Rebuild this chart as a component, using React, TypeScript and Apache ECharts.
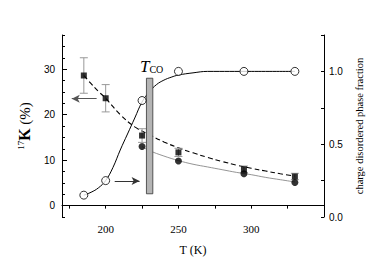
import React, { useEffect, useRef } from "react";
import * as echarts from "echarts";

// Open circles: charge disordered phase fraction (right axis)
const tOpen = [185, 200, 225, 250, 295, 330];
const fracOpen = [0.15, 0.25, 0.8, 1.0, 1.0, 1.0];
// Fit curve through open circles
const tFracFit = [185, 190, 195, 200, 205, 210, 215, 220, 225, 230, 235, 240, 245, 250, 260, 270, 300, 330];
const fracFit = [0.15, 0.17, 0.2, 0.25, 0.34, 0.46, 0.57, 0.68, 0.79, 0.86, 0.91, 0.94, 0.96, 0.975, 0.99, 1.0, 1.0, 1.0];

// Squares: 17K (%) with error bars
const tSq = [185, 200, 225, 250, 295, 330];
const kSq = [28.6, 23.6, 15.4, 11.7, 8.0, 6.4];
const kSqErr = [3.9, 3.0, 1.5, 0.9, 0.7, 0.7];
// Dashed fit through squares
const tDashFit = [185, 190, 195, 200, 210, 220, 230, 240, 250, 260, 270, 280, 290, 300, 310, 320, 330];
const kDashFit = [28.6, 26.8, 25.1, 23.6, 20.0, 17.3, 15.6, 14.0, 12.7, 11.6, 10.6, 9.7, 8.9, 8.2, 7.6, 7.0, 6.5];

// Filled circles: 17K (%)
const tDot = [225, 250, 295, 330];
const kDot = [13.0, 9.8, 7.0, 5.1];
// Gray fit through filled circles
const tGrayFit = [225, 230, 240, 250, 260, 270, 280, 290, 300, 310, 320, 330];
const kGrayFit = [13.0, 12.1, 10.9, 9.9, 9.1, 8.5, 7.9, 7.3, 6.8, 6.2, 5.7, 5.2];

// T_CO band: [tStart, tEnd, kBottom, kTop]
const tcoBand = [228, 232.4, 2.6, 28.0];

// Arrows: [tFrom, tTo, value]
const leftArrow = [193.8, 176.7, 23.5];
const rightArrow = [206.2, 223.3, 0.247];

const xTicks = [175, 200, 225, 250, 275, 300, 325];
const xLabels = [200, 250, 300];
const leftLabels = [0, 10, 20, 30];
const rightLabels = [0, 0.5, 1.0];

const SANS = "Liberation Sans, Arial, sans-serif";
const SERIF = "Liberation Serif, Times New Roman, serif";

export default function App() {
  const ref = useRef<HTMLDivElement>(null);
  useEffect(() => {
    if (!ref.current) return;
    const chart = echarts.init(ref.current, null, { renderer: "svg" });
    const zip = (a: number[], b: number[]) => a.map((v, i) => [v, b[i]]);
    const option: any = {
      animation: false,
      grid: { left: 62, right: 50, top: 35, bottom: 44 },
      graphic: [
        {
          type: "text",
          left: 140,
          top: 58,
          style: {
            text: "{t|T}{s|CO}",
            rich: {
              t: { fontFamily: SERIF, fontStyle: "italic", fontSize: 17, fill: "#000", verticalAlign: "bottom" },
              s: { fontFamily: SERIF, fontSize: 10, fill: "#000", padding: [6, 0, 0, 0] },
            },
          },
        },
      ],
      xAxis: {
        type: "value",
        min: 170,
        max: 350,
        name: "T (K)",
        nameLocation: "middle",
        nameGap: 27,
        nameTextStyle: { fontFamily: SERIF, fontSize: 12, color: "#000", fontWeight: "normal" },
        axisLine: { lineStyle: { color: "#000", width: 1 } },
        axisTick: { customValues: xTicks, length: 3, inside: false, lineStyle: { color: "#000" } },
        axisLabel: { customValues: xLabels, fontFamily: SERIF, fontSize: 11, color: "#000", margin: 6 },
        splitLine: { show: false },
      },
      yAxis: [
        {
          type: "value",
          min: -2.5,
          max: 37.5,
          interval: 2.5,
          position: "left",
          name: "{sup|17}{k|K}{r| (%)}",
          nameLocation: "middle",
          nameRotate: 90,
          nameGap: 15,
          nameTextStyle: {
            rich: {
              sup: { fontFamily: SERIF, fontSize: 9, color: "#000", verticalAlign: "top", padding: [0, 0, 8, 0] },
              k: { fontFamily: SERIF, fontSize: 16, fontWeight: "bold", color: "#000" },
              r: { fontFamily: SERIF, fontSize: 15, color: "#000" },
            },
          },
          axisLine: { show: true, lineStyle: { color: "#000", width: 1 } },
          axisTick: { show: true, inside: true, length: 3, lineStyle: { color: "#000" } },
          axisLabel: {
            fontFamily: SANS,
            fontSize: 10,
            color: "#000",
            margin: 7,
            formatter: (v: number) => (leftLabels.indexOf(v) >= 0 ? String(v) : ""),
          },
          splitLine: { show: false },
        },
        {
          type: "value",
          min: 0,
          max: 1.25,
          interval: 0.25,
          position: "right",
          name: "charge disordered phase fraction",
          nameLocation: "middle",
          nameRotate: 90,
          nameGap: 27,
          nameTextStyle: { fontFamily: SERIF, fontSize: 10.5, color: "#000" },
          axisLine: { show: true, lineStyle: { color: "#000", width: 1 } },
          axisTick: { show: true, inside: true, length: 3, lineStyle: { color: "#000" } },
          axisLabel: {
            fontFamily: SANS,
            fontSize: 10,
            color: "#000",
            margin: 5,
            formatter: (v: number) => (rightLabels.some((r) => Math.abs(r - v) < 1e-9) ? v.toFixed(1) : ""),
          },
          splitLine: { show: false },
        },
        {
          type: "value",
          min: -2.5,
          max: 37.5,
          position: "left",
          axisLine: { show: false },
          axisLabel: { show: false },
          splitLine: { show: false },
          axisTick: { show: true, inside: true, length: 5, customValues: leftLabels, lineStyle: { color: "#000" } },
        },
      ],
      series: [
        {
          type: "line",
          yAxisIndex: 1,
          data: zip(tFracFit, fracFit),
          smooth: 0.4,
          showSymbol: false,
          symbol: "none",
          lineStyle: { color: "#000", width: 1 },
          z: 2,
          markLine: {
            silent: true,
            symbol: ["none", "arrow"],
            symbolSize: [6, 8],
            label: { show: false },
            lineStyle: { color: "#333", width: 1, type: "solid" },
            data: [[{ coord: [rightArrow[0], rightArrow[2]] }, { coord: [rightArrow[1], rightArrow[2]] }]],
          },
        },
        {
          type: "line",
          yAxisIndex: 0,
          data: zip(tDashFit, kDashFit),
          smooth: 0.4,
          symbol: "none",
          lineStyle: { color: "#000", width: 1.1, type: [5, 3] },
          z: 2,
          markLine: {
            silent: true,
            symbol: ["none", "arrow"],
            symbolSize: [6, 8],
            label: { show: false },
            lineStyle: { color: "#555", width: 1, type: "solid" },
            data: [[{ coord: [leftArrow[0], leftArrow[2]] }, { coord: [leftArrow[1], leftArrow[2]] }]],
          },
        },
        {
          type: "line",
          yAxisIndex: 0,
          data: zip(tGrayFit, kGrayFit),
          smooth: 0.4,
          symbol: "none",
          lineStyle: { color: "#888", width: 0.9 },
          z: 2,
        },
        {
          type: "custom",
          yAxisIndex: 0,
          data: tSq.map((t, i) => [t, kSq[i] - kSqErr[i], kSq[i] + kSqErr[i]]),
          encode: { x: 0, y: [1, 2] },
          z: 3,
          renderItem: (params: any, api: any) => {
            const x = api.value(0);
            const lo = api.coord([x, api.value(1)]);
            const hi = api.coord([x, api.value(2)]);
            const w = 4;
            const st = { stroke: "#999", lineWidth: 1 };
            return {
              type: "group",
              children: [
                { type: "line", shape: { x1: lo[0], y1: lo[1], x2: hi[0], y2: hi[1] }, style: st },
                { type: "line", shape: { x1: lo[0] - w, y1: lo[1], x2: lo[0] + w, y2: lo[1] }, style: st },
                { type: "line", shape: { x1: hi[0] - w, y1: hi[1], x2: hi[0] + w, y2: hi[1] }, style: st },
              ],
            };
          },
        },
        {
          type: "custom",
          yAxisIndex: 0,
          data: [tcoBand],
          encode: { x: [0, 1], y: [2, 3] },
          z: 5,
          renderItem: (params: any, api: any) => {
            const p1 = api.coord([api.value(0), api.value(3)]);
            const p2 = api.coord([api.value(1), api.value(2)]);
            return {
              type: "rect",
              shape: { x: p1[0], y: p1[1], width: p2[0] - p1[0], height: p2[1] - p1[1] },
              style: { fill: "#b4b4b4", stroke: "#333", lineWidth: 0.8 },
            };
          },
        },
        {
          type: "scatter",
          yAxisIndex: 0,
          data: zip(tSq, kSq),
          symbol: "rect",
          symbolSize: 6,
          itemStyle: { color: "#000" },
          z: 6,
        },
        {
          type: "scatter",
          yAxisIndex: 0,
          data: zip(tDot, kDot),
          symbol: "circle",
          symbolSize: 7,
          itemStyle: { color: "#000" },
          z: 6,
        },
        {
          type: "scatter",
          yAxisIndex: 1,
          data: zip(tOpen, fracOpen),
          symbol: "circle",
          symbolSize: 8,
          itemStyle: { color: "#fff", borderColor: "#000", borderWidth: 1 },
          z: 6,
        },
      ],
    };
    chart.setOption(option);
    return () => chart.dispose();
  }, []);
  return <div ref={ref} style={{ width: 374, height: 261, position: "absolute", left: 0, top: 0 }} />;
}
